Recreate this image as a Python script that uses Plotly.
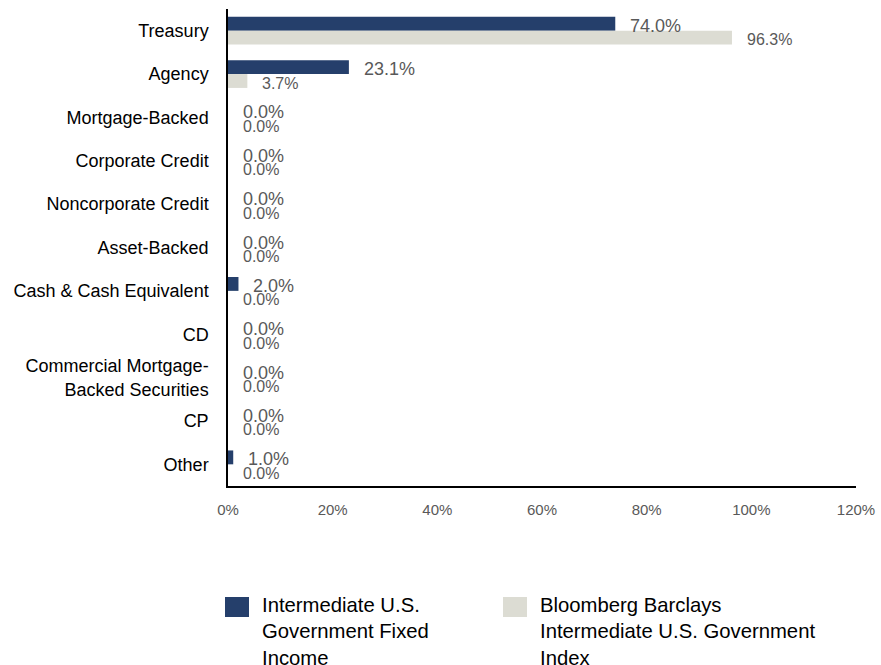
import plotly.graph_objects as go

categories = ["Treasury", "Agency", "Mortgage-Backed", "Corporate Credit", "Noncorporate Credit",
              "Asset-Backed", "Cash & Cash Equivalent", "CD",
              "Commercial Mortgage-<br>Backed Securities", "CP", "Other"]
fund_values = [74.0, 23.1, 0.0, 0.0, 0.0, 0.0, 2.0, 0.0, 0.0, 0.0, 1.0]
index_values = [96.3, 3.7, 0.0, 0.0, 0.0, 0.0, 0.0, 0.0, 0.0, 0.0, 0.0]
fund_name = "Intermediate U.S.<br>Government Fixed<br>Income"
index_name = "Bloomberg Barclays<br>Intermediate U.S. Government<br>Index"
x_ticks = [0, 20, 40, 60, 80, 100, 120]

DARK = "#253F6B"
LIGHT = "#DCDCD3"
FONT = "Liberation Sans, Arial, sans-serif"

W, H = 881, 665
ML, MR, MT, MB = 228, 25, 9, 179
PW, PH = W - ML - MR, H - MT - MB


def px_x(p):
    return (p - ML) / PW


def px_y(p):
    return (H - MB - p) / PH


fig = go.Figure()
fig.add_trace(go.Bar(y=categories, x=fund_values, orientation="h", name=fund_name,
                     marker=dict(color=DARK, line=dict(width=0)), showlegend=False))
fig.add_trace(go.Bar(y=categories, x=index_values, orientation="h", name=index_name,
                     marker=dict(color=LIGHT, line=dict(width=0)), showlegend=False))

annotations = []
for c, v in zip(categories, fund_values):
    annotations.append(dict(x=v, y=c, xref="x", yref="y", text=f"{v:.1f}%", showarrow=False,
                            xanchor="left", yanchor="middle", xshift=13, yshift=5,
                            font=dict(family=FONT, size=18, color="#595959")))
for c, v in zip(categories, index_values):
    annotations.append(dict(x=v, y=c, xref="x", yref="y", text=f"{v:.1f}%", showarrow=False,
                            xanchor="left", yanchor="middle", xshift=13, yshift=-9,
                            font=dict(family=FONT, size=16, color="#595959")))

# manual legend (large swatches as in the reference)
shapes = []
legend_items = [(fund_name, DARK, 225, 261), (index_name, LIGHT, 503, 539)]
for name, color, sx, tx in legend_items:
    shapes.append(dict(type="rect", xref="paper", yref="paper",
                       x0=px_x(sx), x1=px_x(sx + 24), y0=px_y(597), y1=px_y(617),
                       fillcolor=color, line=dict(width=0)))
    annotations.append(dict(xref="paper", yref="paper", x=px_x(tx), y=px_y(593), text=name,
                            showarrow=False, xanchor="left", yanchor="top", align="left",
                            borderpad=0, font=dict(family=FONT, size=20.3, color="#000000")))

fig.update_layout(
    width=W, height=H,
    margin=dict(l=ML, r=MR, t=MT, b=MB, autoexpand=False),
    paper_bgcolor="white", plot_bgcolor="white",
    barmode="group", bargap=0.36, bargroupgap=0,
    font=dict(family=FONT),
    annotations=annotations, shapes=shapes,
    showlegend=False,
)
fig.update_xaxes(range=[0, 120], tickvals=x_ticks, ticktext=[f"{t}%" for t in x_ticks],
                 showgrid=False, zeroline=False, showline=True, linecolor="#000000", linewidth=1.5,
                 tickfont=dict(family=FONT, size=15, color="#595959"), ticks="", ticklabelstandoff=9)
fig.update_yaxes(autorange="reversed", showgrid=False, zeroline=False, showline=True,
                 linecolor="#000000", linewidth=1.5, ticks="", ticklabelstandoff=14,
                 tickfont=dict(family=FONT, size=18, color="#000000"))

fig.write_html("out.html")
